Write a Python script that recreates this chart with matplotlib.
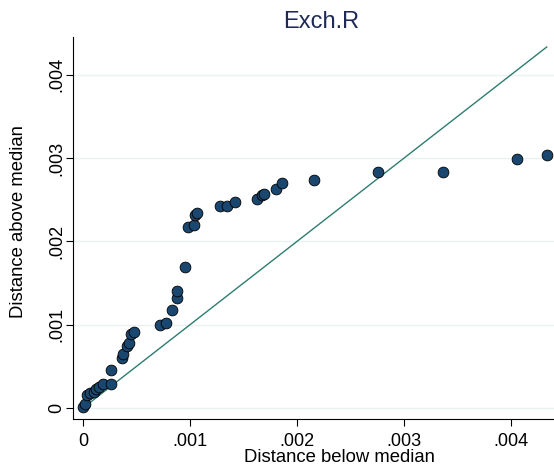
import numpy as np
import matplotlib
matplotlib.use("Agg")
import matplotlib.pyplot as plt

plt.rcParams['font.family'] = ['Liberation Sans', 'DejaVu Sans']

# symmetry plot data: distance below / above the median (sorted)
below = [0.000003, 0.000019, 0.000040, 0.000065, 0.000103, 0.000121, 0.000154,
         0.000184, 0.000262, 0.000264, 0.000364, 0.000371, 0.000408, 0.000433,
         0.000446, 0.000477, 0.000724, 0.000776, 0.000829, 0.000876, 0.000883,
         0.000953, 0.000977, 0.001040, 0.001043, 0.001070, 0.001280, 0.001343,
         0.001420, 0.001623, 0.001673, 0.001692, 0.001804, 0.001857, 0.002159,
         0.002760, 0.003367, 0.004059, 0.004334]
above = [0.000016, 0.000048, 0.000156, 0.000180, 0.000192, 0.000228, 0.000258,
         0.000285, 0.000290, 0.000456, 0.000604, 0.000645, 0.000748, 0.000780,
         0.000885, 0.000916, 0.001002, 0.001026, 0.001182, 0.001320, 0.001400,
         0.001693, 0.002176, 0.002197, 0.002317, 0.002347, 0.002425, 0.002430,
         0.002470, 0.002509, 0.002557, 0.002573, 0.002627, 0.002697, 0.002733,
         0.002830, 0.002830, 0.002989, 0.003037]

ticks = [0, 0.001, 0.002, 0.003, 0.004]
tick_labels = ['0', '.001', '.002', '.003', '.004']

fig = plt.figure(figsize=(5.54, 4.68), dpi=100)
ax = fig.add_axes([73/554, 49/468, 481/554, 382/468])

for t in ticks:
    ax.axhline(t, color='#eaf2f3', lw=1.0, zorder=0)

ref = [0, max(below)]
ax.plot(ref, ref, color='#2e7d70', lw=1.0, zorder=2)
ax.scatter(below, above, s=60, color='#1a476f', edgecolor='black',
           linewidth=0.6, zorder=3)

ax.set_xlim(-0.0000935, 0.004402)
ax.set_ylim(-0.000132, 0.004454)
ax.set_xticks(ticks)
ax.set_xticklabels(tick_labels)
ax.set_yticks(ticks)
ax.set_yticklabels(tick_labels, rotation=90, va='center')
ax.tick_params(labelsize=13, length=5, width=0.8, colors='black')
ax.tick_params(axis='y', pad=0.5)
ax.tick_params(axis='x', pad=5)

for s in ['top', 'right']:
    ax.spines[s].set_visible(False)
for s in ['left', 'bottom']:
    ax.spines[s].set_linewidth(0.8)

ax.set_xlabel('Distance below median', fontsize=13.3)
ax.set_ylabel('Distance above median', fontsize=13.3)
ax.xaxis.set_label_coords((339 - 73) / 481, (419 - 458) / 382)
ax.yaxis.set_label_coords((18 - 73) / 481, (419 - 222) / 382)
ax.xaxis.label.set_va('center')
ax.yaxis.label.set_va('center')
fig.text(321/554, 1 - 22/468, 'Exch.R', ha='center', va='center',
         fontsize=17, color='#1e2a55')

fig.savefig('out.png', dpi=100)
